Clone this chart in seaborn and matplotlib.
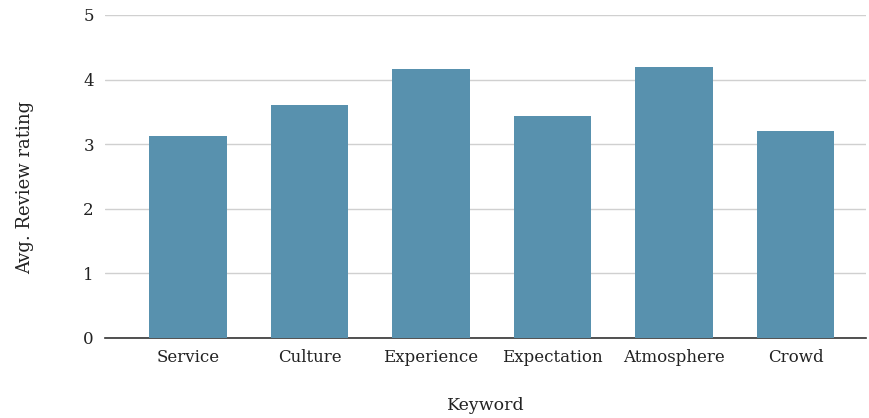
import matplotlib
matplotlib.use("Agg")
import matplotlib.pyplot as plt
import seaborn as sns
import pandas as pd

keywords = ["Service", "Culture", "Experience", "Expectation", "Atmosphere", "Crowd"]
avg_rating = [3.12, 3.61, 4.17, 3.44, 4.19, 3.21]
y_ticks = [0, 1, 2, 3, 4, 5]

df = pd.DataFrame({"Keyword": keywords, "Avg. Review rating": avg_rating})

sns.set_theme(style="white")
plt.rcParams["font.family"] = ["DejaVu Serif", "DejaVu Sans"]

fig = plt.figure(figsize=(8.69, 4.18), dpi=100)
ax = fig.add_axes([105 / 869, (418 - 338) / 418, (866 - 105) / 869, (338 - 15) / 418])

sns.barplot(data=df, x="Keyword", y="Avg. Review rating", color="#5891ae",
            saturation=1, width=0.64, linewidth=0, ax=ax, zorder=3)

ax.set_ylim(0, 5)
ax.set_xlim(-0.683, 5.58)
ax.set_yticks(y_ticks)
ax.yaxis.grid(True, color="#d0d0d0", linewidth=1, zorder=0)
ax.set_axisbelow(True)
for side in ["left", "right", "top"]:
    ax.spines[side].set_visible(False)
ax.spines["bottom"].set_color("#333333")
ax.spines["bottom"].set_linewidth(1.2)
ax.tick_params(axis="both", length=0, colors="#222222", labelsize=12)
ax.tick_params(axis="y", pad=8)
ax.tick_params(axis="x", pad=8)

ax.set_xlabel("Keyword", fontsize=12.5, color="#222222", labelpad=22)
ax.set_ylabel("Avg. Review rating", fontsize=13, color="#222222")
ax.yaxis.set_label_coords(-0.093, 0.4675)

fig.savefig("out.png", dpi=100)
